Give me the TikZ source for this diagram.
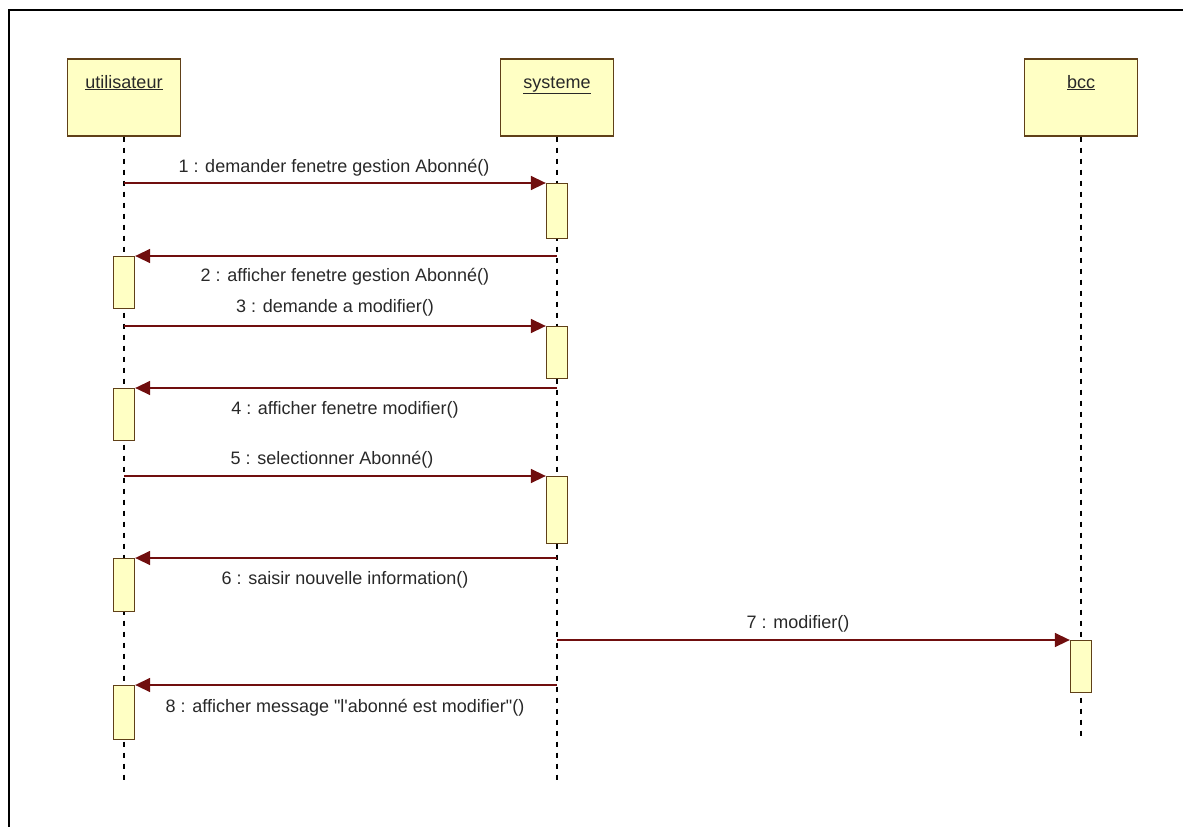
\documentclass[tikz,border=0pt]{standalone}
\usepackage{fontspec}
\setmainfont{Liberation Sans}[Ligatures=TeXOff]
\usetikzlibrary{arrows.meta}
\definecolor{boxfill}{RGB}{255,255,196}
\definecolor{boxline}{RGB}{96,64,24}
\definecolor{msgred}{RGB}{112,14,14}
\definecolor{txt}{RGB}{40,40,40}

\begin{document}
\begin{tikzpicture}[x=1pt,y=-1pt,
  every node/.style={font=\fontsize{18}{21}\selectfont, text=txt},
  header/.style={draw=boxline, fill=boxfill, line width=1.5pt, minimum width=113pt,
                 minimum height=77pt, anchor=north, inner sep=0pt},
  headname/.style={inner sep=0pt, anchor=base},
  act/.style={draw=boxline, fill=boxfill, line width=1.3pt, minimum width=21pt,
              anchor=north, inner sep=0pt},
  life/.style={line width=1.6pt, dash pattern=on 5pt off 6pt},
  msg/.style={draw=msgred, line width=1.5pt, -{Triangle[length=15pt,width=14pt]}},
  lbl/.style={inner sep=0pt}
]
\useasboundingbox (0,0) rectangle (1183,827);

% page frame (top and left edges)
\coordinate (fbl) at (9,827);
\coordinate (ftl) at (9,10);
\coordinate (ftr) at (1183,10);
\draw[line width=2pt] (fbl) -- (ftl) -- (ftr);

% object headers
\node[header] (uh) at (124,58) {};
\node[header] (sh) at (557,58) {};
\node[header] (bh) at (1081,58) {};
\node[headname] (uname) at (124,88) {\underline{utilisateur}};
\node[headname] (sname) at (557,88) {\underline{systeme}};
\node[headname] (bname) at (1081,88) {\underline{bcc}};

% lifelines
\coordinate (uend) at (124,783);
\coordinate (send) at (557,783);
\coordinate (bend) at (1081,740);
\draw[life] (uh.south) -- (uend);
\draw[life] (sh.south) -- (send);
\draw[life] (bh.south) -- (bend);

% activation bars
\node[act, minimum height=55pt] (sa1) at (557,183) {};
\node[act, minimum height=52pt] (ua1) at (124,256) {};
\node[act, minimum height=52pt] (sa2) at (557,326) {};
\node[act, minimum height=52pt] (ua2) at (124,388) {};
\node[act, minimum height=67pt] (sa3) at (557,476) {};
\node[act, minimum height=53pt] (ua3) at (124,558) {};
\node[act, minimum height=52pt] (ba1) at (1081,640) {};
\node[act, minimum height=54pt] (ua4) at (124,685) {};

% message start points on the lifelines
\coordinate (m1) at (124,183);
\coordinate (m2) at (557,256);
\coordinate (m3) at (124,326);
\coordinate (m4) at (557,388);
\coordinate (m5) at (124,476);
\coordinate (m6) at (557,558);
\coordinate (m7) at (557,640);
\coordinate (m8) at (557,685);

% messages
\draw[msg] (m1) -- (sa1.north west);
\draw[msg] (m2) -- (ua1.north east);
\draw[msg] (m3) -- (sa2.north west);
\draw[msg] (m4) -- (ua2.north east);
\draw[msg] (m5) -- (sa3.north west);
\draw[msg] (m6) -- (ua3.north east);
\draw[msg] (m7) -- (ba1.north west);
\draw[msg] (m8) -- (ua4.north east);

% message labels
\node[lbl] (l1) at (334,168) {1 : demander fenetre gestion Abonné()};
\node[lbl] (l2) at (345,277) {2 : afficher fenetre gestion Abonné()};
\node[lbl] (l3) at (335,308) {3 : demande a modifier()};
\node[lbl] (l4) at (345,410) {4 : afficher fenetre modifier()};
\node[lbl] (l5) at (332,460) {5 : selectionner Abonné()};
\node[lbl] (l6) at (345,580) {6 : saisir nouvelle information()};
\node[lbl] (l7) at (798,624) {7 : modifier()};
\node[lbl] (l8) at (345,708) {8 : afficher message "l'abonné est modifier"()};
\end{tikzpicture}
\end{document}
